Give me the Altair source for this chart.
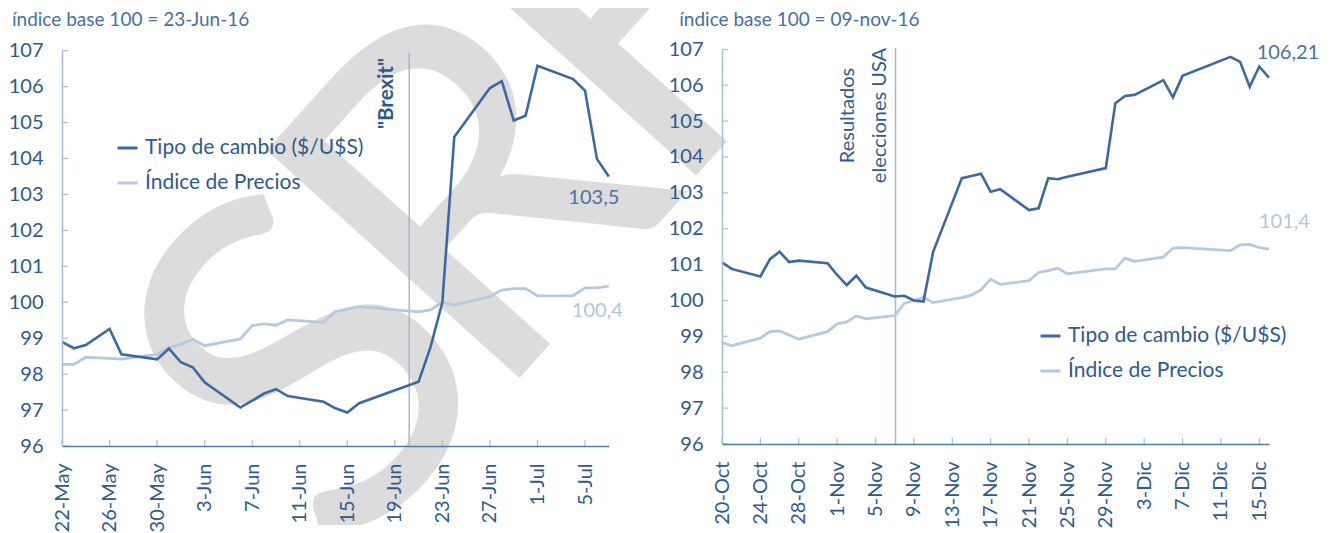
import altair as alt
import pandas as pd

# ---------------- data ----------------
SERIES = ["Tipo de cambio ($/U$S)", "Índice de Precios"]

L_DATES = ["2016-05-22", "2016-05-23", "2016-05-24", "2016-05-26", "2016-05-27", "2016-05-30",
           "2016-05-31", "2016-06-01", "2016-06-02", "2016-06-03", "2016-06-06", "2016-06-07",
           "2016-06-08", "2016-06-09", "2016-06-10", "2016-06-13", "2016-06-14", "2016-06-15",
           "2016-06-16", "2016-06-21", "2016-06-22", "2016-06-23", "2016-06-24", "2016-06-27",
           "2016-06-28", "2016-06-29", "2016-06-30", "2016-07-01", "2016-07-04", "2016-07-05",
           "2016-07-06", "2016-07-07"]
L_TC = [98.90, 98.72, 98.81, 99.26, 98.55, 98.41, 98.71, 98.33, 98.19, 97.77, 97.07, 97.26,
        97.46, 97.58, 97.39, 97.23, 97.05, 96.93, 97.19, 97.79, 98.75, 100.00, 104.60, 105.96,
        106.15, 105.06, 105.19, 106.58, 106.21, 105.89, 103.99, 103.50]
L_IP = [98.27, 98.27, 98.47, 98.44, 98.42, 98.55, 98.74, 98.83, 98.97, 98.79, 98.98, 99.35,
        99.40, 99.36, 99.51, 99.44, 99.74, 99.80, 99.88, 99.73, 99.79, 100.00, 99.92, 100.16,
        100.34, 100.38, 100.38, 100.18, 100.18, 100.40, 100.40, 100.45]

R_DATES = ["2016-10-20", "2016-10-21", "2016-10-24", "2016-10-25", "2016-10-26", "2016-10-27",
           "2016-10-28", "2016-10-31", "2016-11-01", "2016-11-02", "2016-11-03", "2016-11-04",
           "2016-11-07", "2016-11-08", "2016-11-09", "2016-11-10", "2016-11-11", "2016-11-14",
           "2016-11-15", "2016-11-16", "2016-11-17", "2016-11-18", "2016-11-21", "2016-11-22",
           "2016-11-23", "2016-11-24", "2016-11-25", "2016-11-29", "2016-11-30", "2016-12-01",
           "2016-12-02", "2016-12-05", "2016-12-06", "2016-12-07", "2016-12-12", "2016-12-13",
           "2016-12-14", "2016-12-15", "2016-12-16"]
R_TC = [101.06, 100.88, 100.67, 101.15, 101.36, 101.07, 101.11, 101.04, 100.71, 100.43, 100.69,
        100.36, 100.11, 100.13, 100.00, 99.97, 101.35, 103.41, 103.47, 103.53, 103.03, 103.10,
        102.52, 102.57, 103.41, 103.38, 103.45, 103.69, 105.50, 105.70, 105.73, 106.14, 105.66,
        106.26, 106.79, 106.65, 105.96, 106.52, 106.21]
R_IP = [98.83, 98.74, 98.95, 99.13, 99.15, 99.04, 98.92, 99.13, 99.35, 99.40, 99.57, 99.49,
        99.58, 99.92, 100.00, 100.09, 99.94, 100.08, 100.15, 100.30, 100.59, 100.45, 100.55,
        100.78, 100.83, 100.90, 100.74, 100.88, 100.88, 101.18, 101.09, 101.21, 101.46, 101.47,
        101.39, 101.55, 101.56, 101.47, 101.43]

L_TICKS = ["2016-05-22", "2016-05-26", "2016-05-30", "2016-06-03", "2016-06-07", "2016-06-11",
           "2016-06-15", "2016-06-19", "2016-06-23", "2016-06-27", "2016-07-01", "2016-07-05"]
R_TICKS = ["2016-10-20", "2016-10-24", "2016-10-28", "2016-11-01", "2016-11-05", "2016-11-09",
           "2016-11-13", "2016-11-17", "2016-11-21", "2016-11-25", "2016-11-29", "2016-12-03",
           "2016-12-07", "2016-12-11", "2016-12-15"]
Y_TICKS = [96, 97, 98, 99, 100, 101, 102, 103, 104, 105, 106, 107]
L_XDOM = ["2016-05-22", "2016-07-07"]
R_XDOM = ["2016-10-20", "2016-12-16"]

L_TITLE = "índice base 100 = 23-Jun-16"
R_TITLE = "índice base 100 = 09-nov-16"
L_EVENT = "2016-06-20T05:00:00"
R_EVENT = "2016-11-07T02:00:00"
L_NOTES = ['"Brexit"']
R_NOTES = ["Resultados", "elecciones USA"]
L_END = ["103,5", "100,4"]
R_END = ["106,21", "101,4"]
WATERMARK = ["S", "R", "F"]

# ---------------- style ----------------
FONT = "Lato"
DARK = "#3d68a1"
LIGHT = "#b7c9df"
LABEL_C = "#2e5a8d"
TITLE_C = "#4670a5"
YDOM_C = "#a9bdd6"
XDOM_C = "#5079ae"
EVENT_C = "#a3b8d3"
WM_C = "#dcdcdc"
H = 517


def dt(s):
    y, m, d = s[:10].split("-")
    h = int(s[11:13]) if len(s) > 10 else 0
    return alt.DateTime(year=int(y), month=int(m), date=int(d), hours=h)


def panel(dates, tc, ip, ticks, xdom, title, event, notes, ends, g, label_expr):
    n = len(dates)
    df = pd.DataFrame({
        "d": [x + "T00:00:00" for x in dates] * 2,
        "v": tc + ip,
        "serie": [SERIES[0]] * n + [SERIES[1]] * n,
    })
    xs = alt.Scale(domain=[dt(xdom[0]), dt(xdom[1])], range=g["xr"])
    ys = alt.Scale(domain=[96, 107], range=g["yr"], nice=False, zero=False)
    xaxis = alt.Axis(values=[dt(t) for t in ticks], labelExpr=label_expr, labelAngle=270,
                     labelFont=FONT, labelFontSize=20, labelColor=LABEL_C, labelPadding=17,
                     ticks=False, tickSize=0, domainColor=XDOM_C, domainWidth=1.5, grid=False,
                     title=None, offset=-(H - g["yr"][0]), zindex=1, labelFlush=False,
                     labelOverlap=False)
    yaxis = alt.Axis(values=Y_TICKS, labelFont=FONT, labelFontSize=20, labelColor=LABEL_C,
                     labelPadding=19, ticks=False, tickSize=0, domainColor=YDOM_C,
                     domainWidth=1.5, grid=False, title=None, offset=-g["xr"][0], zindex=1,
                     labelFlush=False)
    X = alt.X("d:T", scale=xs, axis=xaxis)
    Y = alt.Y("v:Q", scale=ys, axis=yaxis)
    legend = alt.Legend(orient="none", legendX=g["lx"], legendY=g["ly"], title=None,
                        symbolType="stroke", symbolSize=400, symbolStrokeWidth=3,
                        labelFont=FONT, labelFontSize=21, labelColor=LABEL_C, rowPadding=13,
                        labelOffset=6, labelLimit=0, padding=0, zindex=1)
    COLOR = alt.Color("serie:N", scale=alt.Scale(domain=SERIES, range=[DARK, LIGHT]),
                      legend=legend)
    one = pd.DataFrame({"a": [0]})
    layers = []
    for letter, (px, py) in zip(WATERMARK, g["wm"]):
        layers.append(alt.Chart(one).mark_text(text=letter, font=FONT, fontSize=475, angle=312,
                                              align="center", baseline="alphabetic",
                                              color=WM_C, clip=True)
                      .encode(x=alt.value(px), y=alt.value(py)))
    ev = pd.DataFrame({"d": [event]})
    layers.append(alt.Chart(ev).mark_rule(color=EVENT_C, strokeWidth=1.5)
                  .encode(x=X, y=alt.value(g["evtop"]), y2=alt.value(g["yr"][0])))
    layers.append(alt.Chart(pd.DataFrame({"v": Y_TICKS})).mark_rule(color=YDOM_C, strokeWidth=1.2)
                  .encode(y=Y, x=alt.value(g["xr"][0]), x2=alt.value(g["xr"][0] + 6)))
    layers.append(alt.Chart(pd.DataFrame({"d": [t + "T00:00:00" for t in ticks]}))
                  .mark_rule(color=YDOM_C, strokeWidth=1.2)
                  .encode(x=X, y=alt.value(g["yr"][0] - 6), y2=alt.value(g["yr"][0])))
    layers.append(alt.Chart(df[df.serie == SERIES[1]]).mark_line(strokeWidth=2.8)
                  .encode(x=X, y=Y, color=COLOR))
    layers.append(alt.Chart(df[df.serie == SERIES[0]]).mark_line(strokeWidth=2.6)
                  .encode(x=X, y=Y, color=COLOR))
    last = pd.DataFrame({"d": [dates[-1] + "T00:00:00"] * 2, "v": [tc[-1], ip[-1]], "t": ends})
    for i, (ddx, ddy, col) in enumerate(g["ends"]):
        layers.append(alt.Chart(last.iloc[[i]]).mark_text(font=FONT, fontSize=20, color=col,
                                                         align="center", baseline="middle",
                                                         dx=ddx, dy=ddy)
                      .encode(x=X, y=Y, text="t:N"))
    for note, ddy in zip(notes, g["notedy"]):
        layers.append(alt.Chart(ev).mark_text(text=note, font=FONT, fontSize=g["notesize"],
                                             fontWeight=g["noteweight"], color=LABEL_C,
                                             angle=270, align="center", baseline="middle",
                                             dy=ddy)
                      .encode(x=X, y=alt.value(g["notey"])))
    layers.append(alt.Chart(one).mark_text(text=title, font=FONT, fontSize=19, color=TITLE_C,
                                          align="left", baseline="middle")
                  .encode(x=alt.value(g["tx"]), y=alt.value(12)))
    return alt.layer(*layers).properties(width=g["w"], height=H)


GL = dict(w=657, xr=[54, 600.8], yr=[438, 42.7], evtop=45, lx=108, ly=128.5,
          wm=[(418.4, 467.1), (582, 291.8), (748.9, 100.1)],
          ends=[(-15, 21.7, "#4a73a9"), (-11.5, 24.7, "#b3c6dd")],
          notedy=[-22], notey=85.5, notesize=20.5, noteweight="bold", tx=4)
GR = dict(w=660, xr=[57, 603.9], yr=[436, 41.3], evtop=40, lx=374, ly=316.5,
          wm=[(-238.6, 467.1), (-75, 291.8), (91.9, 100.1)],
          ends=[(19, -24.7, "#4a73a9"), (15.5, -27.3, "#b3c6dd")],
          notedy=[-48, -16], notey=107.5, notesize=20, noteweight="normal", tx=14.3)

left = panel(L_DATES, L_TC, L_IP, L_TICKS, L_XDOM, L_TITLE, L_EVENT, L_NOTES, L_END, GL,
             "timeFormat(datum.value, '%-d-%b')")
right = panel(R_DATES, R_TC, R_IP, R_TICKS, R_XDOM, R_TITLE, R_EVENT, R_NOTES, R_END, GR,
              "replace(timeFormat(datum.value, '%-d-%b'), 'Dec', 'Dic')")

chart = (alt.hconcat(left, right, spacing=0, padding=0)
         .resolve_scale(color="independent")
         .configure(font=FONT)
         .configure_view(strokeWidth=0))

chart.save("out.html", embed_options={"renderer": "svg", "actions": False})
